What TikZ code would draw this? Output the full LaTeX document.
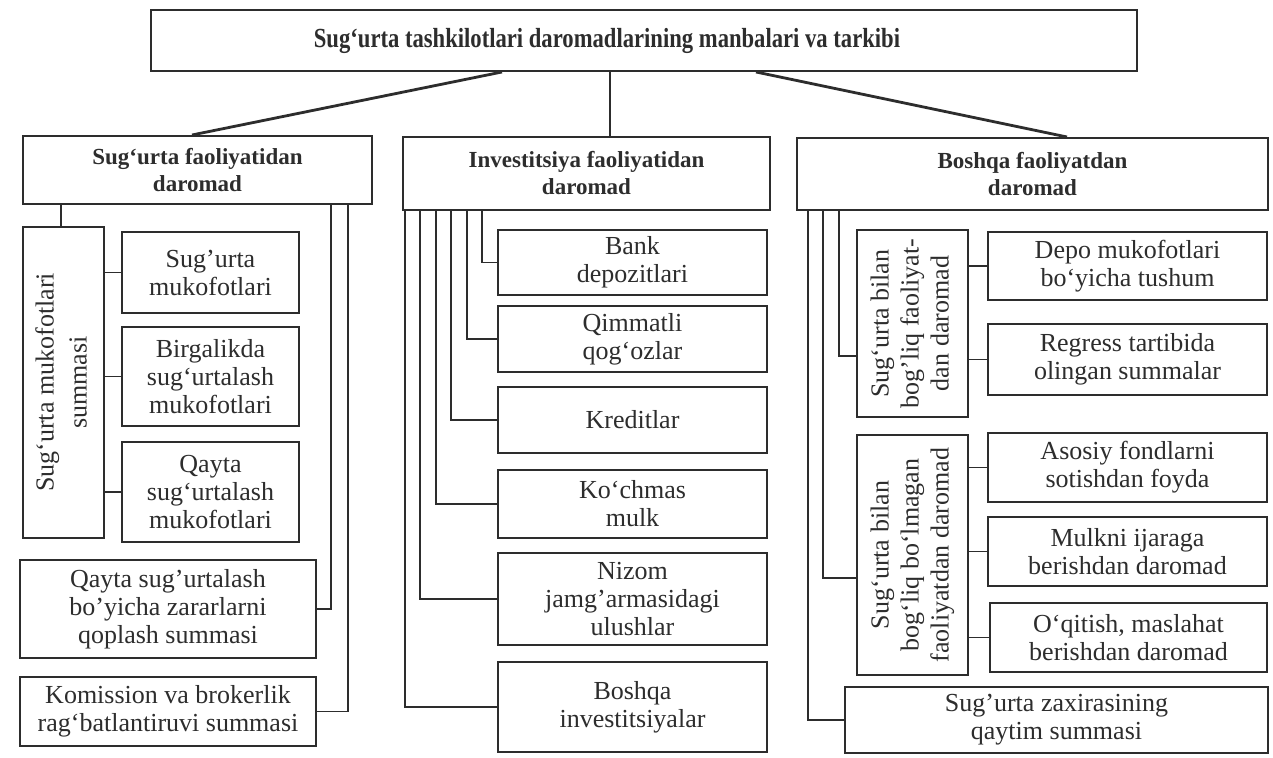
\documentclass[tikz,border=0pt]{standalone}
\usepackage{fontspec}
\setmainfont{Liberation Serif}
\newfontfamily\titlefont[FakeStretch=0.82]{Liberation Serif}
\usepackage{graphicx}
\definecolor{ink}{RGB}{45,45,45}
\tikzset{
  box/.style={draw=ink, line width=1pt, text=ink, inner sep=1pt, align=center,
              font=\fontsize{13}{14}\selectfont},
  hbox/.style={font=\bfseries\fontsize{11.5}{13.5}\selectfont},
  tbox/.style={font=\titlefont\bfseries\fontsize{13.8}{16}\selectfont},
  conn/.style={draw=ink, line width=0.85pt},
  link/.style={draw=ink, line width=1.4pt},
}
% \bx[style]{name}{x1}{y1}{x2}{y2}{text}  (pixel coordinates)
\newcommand\bx[7][]{\node[box,#1,minimum width={(#5-#3)*0.5pt},minimum height={(#6-#4)*0.5pt}] (#2) at ({(#3+#5)/2},{(#4+#6)/2}) {#7};}
\newcommand\vtext[2][14.5]{\rotatebox{90}{\fontsize{13}{#1}\selectfont\begin{tabular}{@{}c@{}}#2\end{tabular}}}
\begin{document}
\begin{tikzpicture}[x=0.5pt,y=-0.5pt]
\fill[white] (0,0) rectangle (1273,758);
\useasboundingbox (0,0) rectangle (1273,758);

% title and level 2
\bx[tbox]{T}{151}{10}{1137}{71}{Sug‘urta tashkilotlari daromadlarining manbalari va tarkibi\hspace*{37pt}}
\bx[hbox]{A}{23}{136}{372}{204}{Sug‘urta faoliyatidan\\daromad}
\bx[hbox]{B}{403}{137}{770}{210}{Investitsiya faoliyatidan\\daromad}
\bx[hbox]{C}{797}{138}{1268}{210}{Boshqa faoliyatdan\\daromad}

\draw[link] ([xshift=176pt]T.south west) -- ([xshift=85pt]A.north west);
\draw[conn] ([xshift=230pt]T.south west) -- ([xshift=104pt]B.north west);
\draw[link] ([xshift=303pt]T.south west) -- ([xshift=135.5pt]C.north west);

% left column
\bx{V1}{23}{227}{104}{538}{\vtext[16.5]{Sug‘urta mukofotlari\\summasi}}
\bx{A1}{122}{232}{299}{313}{Sug'urta\\mukofotlari}
\bx{A2}{122}{327}{299}{426}{Birgalikda\\sug‘urtalash\\mukofotlari}
\bx{A3}{122}{442}{299}{542}{Qayta\\sug‘urtalash\\mukofotlari}
\bx{A4}{20}{560}{316}{658}{Qayta sug'urtalash\\bo'yicha zararlarni\\qoplash summasi}
\bx{A5}{20}{677}{316}{746}{Komission va brokerlik\\rag‘batlantiruvi summasi}

\draw[conn] ([xshift=19.5pt]A.south west) -- ([xshift=19.5pt]V1.north west);
\foreach \n in {A1,A2,A3} \draw[conn] (\n.west -| V1.east) -- (\n.west);
\draw[conn] ([xshift=154.5pt]A.south west) |- (A4.east);
\draw[conn] ([xshift=163pt]A.south west) |- (A5.east);

% middle column
\bx{B1}{498}{230}{767}{295}{Bank\\depozitlari}
\bx{B2}{498}{306}{767}{372}{Qimmatli\\qog‘ozlar}
\bx{B3}{498}{387}{767}{453}{Kreditlar}
\bx{B4}{498}{470}{767}{538}{Ko‘chmas\\mulk}
\bx{B5}{498}{553}{767}{645}{Nizom\\jamg'armasidagi\\ulushlar}
\bx{B6}{498}{662}{767}{752}{Boshqa\\investitsiyalar}

\draw[conn] ([xshift=40pt]B.south west) |- (B1.west);
\draw[conn] ([xshift=32.5pt]B.south west) |- (B2.west);
\draw[conn] ([xshift=24.5pt]B.south west) |- (B3.west);
\draw[conn] ([xshift=17pt]B.south west) |- (B4.west);
\draw[conn] ([xshift=9pt]B.south west) |- (B5.west);
\draw[conn] ([xshift=1.5pt]B.south west) |- (B6.west);

% right column
\bx{V2}{857}{230}{968}{417}{\vtext[15]{Sug‘urta bilan\\bog'liq faoliyat-\\dan daromad}}
\bx{V3}{857}{435}{968}{675}{\vtext[15]{Sug‘urta bilan\\bog‘liq bo‘lmagan\\faoliyatdan daromad}}
\bx{C1}{988}{232}{1267}{300}{Depo mukofotlari\\bo‘yicha tushum}
\bx{C2}{988}{324}{1267}{395}{Regress tartibida\\olingan summalar}
\bx{C3}{988}{433}{1267}{502}{Asosiy fondlarni\\sotishdan foyda}
\bx{C4}{988}{517}{1267}{586}{Mulkni ijaraga\\berishdan daromad}
\bx{C5}{990}{603}{1267}{672}{O‘qitish, maslahat\\berishdan daromad}
\bx{C6}{845}{687}{1268}{753}{Sug'urta zaxirasining\\qaytim summasi}

\draw[conn] ([xshift=21.5pt]C.south west) |- ([yshift=31pt]V2.south west);
\draw[conn] ([xshift=13.5pt]C.south west) |- ([yshift=49pt]V3.south west);
\draw[conn] ([xshift=6pt]C.south west) |- (C6.west);
\foreach \n in {C1,C2} \draw[conn] (\n.west -| V2.east) -- (\n.west);
\foreach \n in {C3,C4,C5} \draw[conn] (\n.west -| V3.east) -- (\n.west);
\end{tikzpicture}
\end{document}
